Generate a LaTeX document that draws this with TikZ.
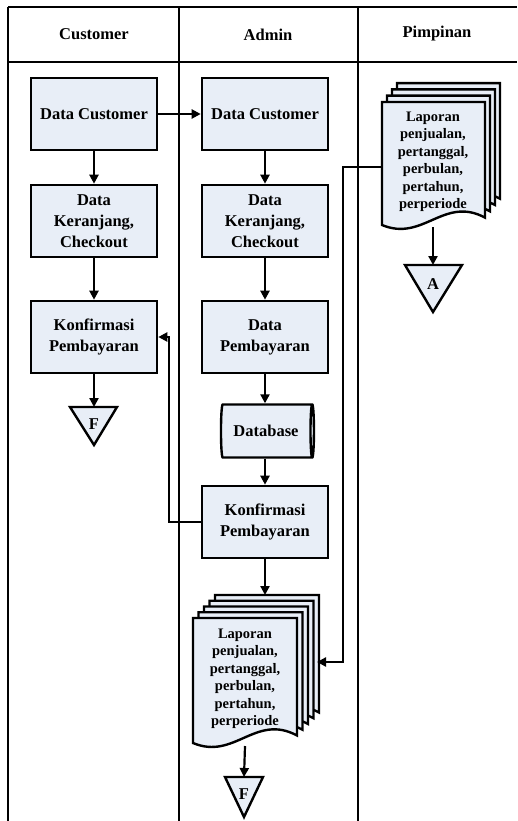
\documentclass[tikz,border=0pt]{standalone}
\usepackage{fontspec}
\setmainfont{Liberation Serif}
\usetikzlibrary{arrows.meta,shapes.geometric}
\definecolor{boxfill}{RGB}{232,238,247}

\newcommand{\docsheet}[4]{% top left x, top left y, width, height
  \filldraw[sheet] ({#1},{#2}) -- ({#1+#3},{#2}) -- ({#1+#3},{#2+0.94*#4})
    .. controls ({#1+0.6*#3},{#2+0.76*#4}) and ({#1+0.4*#3},{#2+1.14*#4}) .. ({#1},{#2+#4}) -- cycle;}

\begin{document}
\begin{tikzpicture}[x=1pt,y=-1pt,
  lane/.style = {line width=2pt},
  head/.style = {font=\fontsize{16.5}{20}\selectfont\bfseries},
  proc/.style = {draw, line width=2.6pt, fill=boxfill, minimum width=126pt, minimum height=72pt, align=center, font=\fontsize{16.5}{21}\selectfont\bfseries},
  store/.style = {draw, line width=2.4pt, fill=boxfill, cylinder, shape border rotate=0, shape aspect=0.3, minimum height=93pt, minimum width=53pt, inner sep=0pt, font=\fontsize{16.5}{20}\selectfont\bfseries},
  sheet/.style = {line width=2.4pt, fill=boxfill, line join=miter},
  doctext/.style = {inner sep=0pt, align=center, font=\fontsize{14.5}{17.5}\selectfont\bfseries},
  tri/.style = {draw, line width=2.4pt, fill=boxfill, line join=miter},
  lbl/.style = {font=\fontsize{16.5}{20}\selectfont\bfseries},
  flow/.style = {-{Triangle[length=9pt,width=9pt]}, line width=2.2pt}]
    \clip (0,0) rectangle (517,821);
    \draw[lane] (8,7) -- (517,7);
    \draw[lane] (8,62) -- (517,62);
    \draw[lane] (8,7) -- (8,821);
    \draw[lane] (179,7) -- (179,821);
    \draw[lane] (358,7) -- (358,821);
    \node[head] (hcust) at (94,34) {Customer};
    \node[head] (hadm) at (268,35) {Admin};
    \node[head] (hpimp) at (437,34) {Pimpinan};

    \node[proc] (cust1) at (94,114) {Data Customer};
    \node[proc] (adm1) at (265,114) {Data Customer};
    \node[proc] (cust2) at (94,221) {Data\\Keranjang,\\Checkout};
    \node[proc] (adm2) at (265,221) {Data\\Keranjang,\\Checkout};
    \node[proc] (cust3) at (94,337) {Konfirmasi\\Pembayaran};
    \node[proc] (adm3) at (265,337) {Data\\Pembayaran};
    \node[store] (db) at (266,431) {Database};
    \node[proc] (adm4) at (265,522) {Konfirmasi\\Pembayaran};

    \draw[tri] (70,407) -- (117,407) -- (94,445) -- cycle;
    \node[lbl] (custF) at (94,424) {F};
    \coordinate (custFtop) at (94,407);
    \draw[tri] (225,777) -- (263,777) -- (244,817) -- cycle;
    \node[lbl] (admF) at (244,794) {F};
    \coordinate (admFtop) at (244,777);
    \draw[tri] (405,265) -- (462,265) -- (433,312) -- cycle;
    \node[lbl] (pimpA) at (433,284) {A};
    \coordinate (pimpAtop) at (433,265);

    \foreach \i in {4,3,2,1,0} \docsheet{193+5.5*\i}{618-5.75*\i}{104}{125};
    \node[doctext, minimum width=104pt] (lapAdmin) at (245,679) {Laporan\\penjualan,\\pertanggal,\\perbulan,\\pertahun,\\perperiode};
    \coordinate (lapAdminTop) at (265,595);
    \coordinate (lapAdminIn) at (317,662);
    \coordinate (lapAdminBot) at (245,746);
    \foreach \i in {3,2,1,0} \docsheet{382+5*\i}{102-6.3*\i}{103}{123};
    \node[doctext, minimum width=103pt] (lapPimp) at (433,162) {Laporan\\penjualan,\\pertanggal,\\perbulan,\\pertahun,\\perperiode};
    \coordinate (lapPimpBot) at (433,227);

    \draw[flow] (cust1) -- (adm1);
    \draw[flow] (cust1) -- (cust2);
    \draw[flow] (cust2) -- (cust3);
    \draw[flow] (cust3) -- (custFtop);
    \draw[flow] (adm1) -- (adm2);
    \draw[flow] (adm2) -- (adm3);
    \draw[flow] (adm3.south) -- (adm3.south |- db.north);
    \draw[flow] (adm4.north |- db.south) -- (adm4.north);
    \draw[flow] (adm4) -- (lapAdminTop);
    \draw[flow] (lapAdminBot) -- (admFtop);
    \draw[flow] (lapPimpBot) -- (pimpAtop);
    \draw[flow] (adm4.west) -- ++(-32,0) |- (cust3.east);
    \draw[flow] ([yshift=-5pt]lapPimp.west) -- ++(-38,0) |- (lapAdminIn);
\end{tikzpicture}
\end{document}
